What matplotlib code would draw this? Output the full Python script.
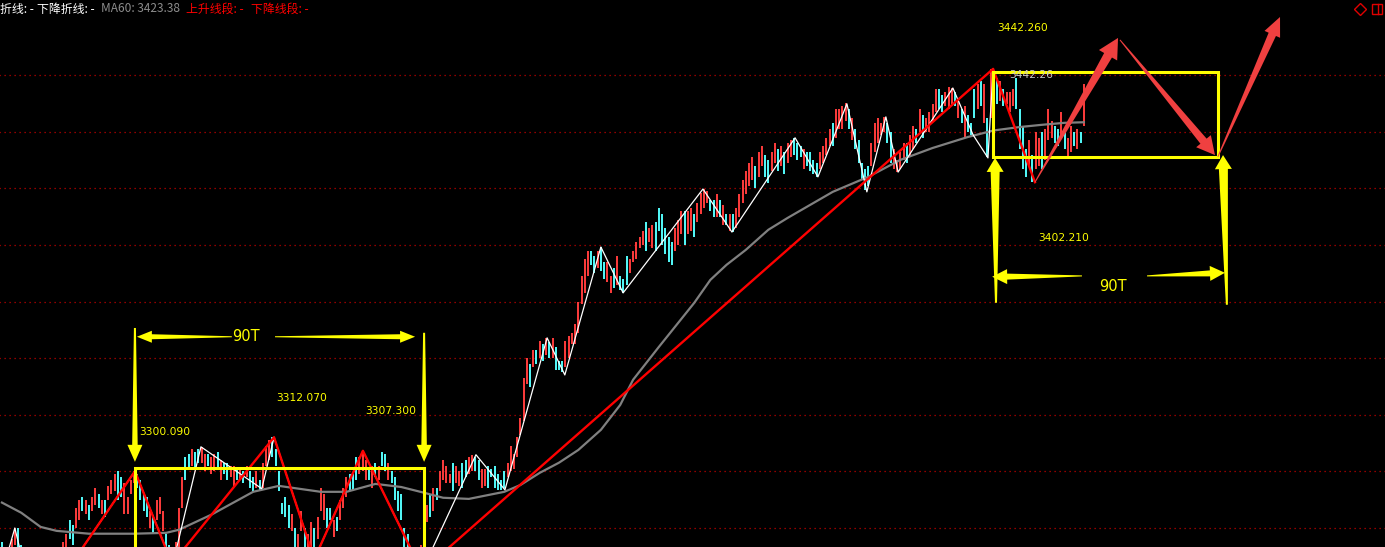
import numpy as np
import matplotlib.pyplot as plt
from matplotlib.patches import Polygon, Rectangle
from matplotlib.transforms import IdentityTransform

plt.rcParams['font.family'] = ['Noto Sans CJK SC', 'DejaVu Sans']

# ---- bars (one per bar index) ----
bar_low = [
    3268, 3266, 3264, 3268, 3274, 3272, 3268, 3264, 3265, 3262,
    3260, 3261, 3258, 3259, 3261, 3260, 3262, 3264, 3266, 3270,
    3271, 3276, 3274, 3280, 3283, 3286, 3285, 3283, 3286, 3288,
    3287, 3285, 3284, 3290, 3292, 3293, 3290, 3291, 3285, 3285,
    3292, 3296, 3294, 3290, 3286, 3284, 3280, 3278, 3283, 3285,
    3279, 3272, 3268, 3266, 3268, 3272, 3287, 3297, 3301, 3302,
    3301, 3303, 3303, 3300, 3302, 3299, 3300, 3301, 3297, 3299,
    3297, 3298, 3295, 3297, 3297, 3296, 3298, 3294, 3293, 3294,
    3293, 3294, 3302, 3304, 3305, 3302, 3293, 3285, 3284, 3280,
    3279, 3272, 3272, 3279, 3273, 3271, 3273, 3272, 3276, 3286,
    3283, 3280, 3283, 3277, 3279, 3283, 3287, 3291, 3293, 3293,
    3297, 3299, 3300, 3297, 3297, 3294, 3298, 3297, 3302, 3300,
    3297, 3296, 3290, 3286, 3283, 3273, 3270, 3266, 3264, 3265,
    3266, 3272, 3282, 3284, 3286, 3290, 3293, 3297, 3296, 3296,
    3293, 3296, 3295, 3294, 3298, 3299, 3300, 3300, 3297, 3294,
    3295, 3294, 3298, 3294, 3293.5, 3293.5, 3294, 3298, 3300, 3301,
    3305, 3313, 3318, 3331, 3330, 3337, 3338, 3340, 3339, 3341,
    3340, 3340, 3336, 3336, 3335, 3337, 3340, 3345, 3345, 3349,
    3359, 3363, 3369, 3373, 3370, 3372, 3371, 3368, 3367, 3363,
    3365, 3366, 3364, 3363, 3366, 3370, 3374, 3375, 3379, 3380,
    3378, 3381, 3379, 3378, 3385, 3380, 3377, 3374, 3373, 3378,
    3380, 3384, 3380, 3384, 3385, 3383, 3388, 3391, 3393, 3395,
    3392, 3390, 3390, 3390, 3387, 3387, 3385, 3384.6, 3386, 3390,
    3395, 3398, 3401, 3403, 3400, 3404, 3408, 3404, 3402, 3406,
    3409, 3406, 3408, 3405, 3409, 3411, 3412, 3410, 3411, 3407,
    3408, 3406, 3405, 3404.1, 3407, 3409, 3412, 3415, 3415, 3418,
    3421, 3421, 3424, 3421, 3417, 3414, 3409, 3403, 3399.5, 3401,
    3408, 3413, 3416, 3419, 3420, 3416, 3409, 3407, 3405.8, 3407,
    3410, 3409, 3411, 3414, 3416, 3420, 3418, 3420, 3420, 3424,
    3427, 3428, 3427, 3429, 3428, 3430, 3429, 3425, 3423, 3418,
    3420, 3418.9, 3425, 3428, 3429, 3423, 3411, 3425, 3434, 3430,
    3431, 3429, 3430, 3427, 3429, 3428, 3414, 3407, 3404, 3408,
    3402.21, 3407, 3408, 3407, 3410, 3417, 3418, 3416, 3415, 3418,
    3414, 3411, 3413, 3415, 3414, 3416, 3422,
]
bar_high = [
    3275, 3272, 3270, 3276, 3280, 3280, 3274, 3270, 3271, 3268,
    3266, 3267, 3264, 3265, 3267, 3266, 3268, 3270, 3273, 3275,
    3278, 3283, 3281, 3287, 3290, 3291, 3290, 3288, 3291, 3294,
    3292, 3290, 3290, 3295, 3297, 3299, 3300, 3298, 3296, 3291,
    3297, 3300.09, 3299, 3297, 3292, 3291, 3286, 3284, 3290, 3291,
    3286, 3278, 3274, 3272, 3275, 3287, 3298, 3305, 3306, 3308,
    3307, 3308, 3308.7, 3306, 3306, 3305, 3306, 3307, 3304, 3303,
    3303, 3302, 3302, 3301, 3301, 3300, 3302, 3300, 3298, 3300,
    3297, 3303, 3309, 3311, 3312.07, 3308, 3300, 3289, 3291, 3288,
    3285, 3280, 3278, 3286, 3280, 3278, 3282, 3280, 3284, 3294,
    3292, 3287, 3287, 3283, 3284, 3290, 3294, 3298, 3299, 3299,
    3305, 3305, 3307.3, 3304, 3301, 3302, 3303, 3302, 3307, 3306,
    3303, 3300, 3298, 3293, 3292, 3280, 3278, 3273, 3272, 3270,
    3274, 3290, 3288, 3292, 3294, 3294, 3300, 3304, 3302, 3299,
    3303, 3302, 3300, 3303, 3304, 3305, 3305.9, 3305, 3304, 3301,
    3301, 3302, 3301, 3302, 3299, 3297, 3300, 3303, 3309, 3306,
    3312, 3319, 3333, 3340, 3338, 3343, 3343, 3346, 3345, 3347.2,
    3345.6, 3347, 3344, 3339, 3339, 3346, 3348, 3349, 3352, 3360,
    3369, 3375, 3378, 3378, 3376, 3378, 3379.3, 3374, 3374, 3369,
    3372, 3376, 3369, 3368, 3376, 3375, 3378, 3381, 3383, 3385,
    3388, 3386, 3387, 3388, 3393, 3391, 3386, 3383, 3381, 3386,
    3389, 3392, 3392, 3392, 3393, 3391, 3395, 3398.4, 3399.8, 3399,
    3396, 3396, 3398, 3396, 3394, 3391, 3391, 3391, 3393, 3398,
    3403, 3406, 3409, 3411, 3408, 3413, 3415, 3412, 3410, 3413,
    3416, 3414, 3415, 3413, 3416, 3417, 3417.9, 3416, 3415, 3414,
    3413, 3413, 3410, 3409, 3413, 3415, 3418, 3421, 3423, 3428,
    3428, 3429, 3430.1, 3428, 3425, 3421, 3417, 3409, 3407, 3408,
    3416, 3423, 3425, 3423, 3425.3, 3423, 3420, 3414, 3410, 3413,
    3416, 3416, 3419, 3422, 3421, 3428, 3426, 3425, 3427, 3430,
    3435, 3435, 3433, 3434, 3436, 3435.4, 3434, 3432, 3428, 3429,
    3426, 3423, 3435, 3437, 3438, 3437, 3425, 3442.26, 3441, 3439,
    3438, 3435, 3434, 3434, 3435, 3439, 3428, 3422, 3414, 3417,
    3412, 3420, 3418, 3420, 3421, 3428, 3424, 3422, 3421, 3427,
    3420, 3418, 3422, 3420, 3421, 3420, 3437,
]
bar_dir = (
    "CRCRRCCCRC" "CRCRRCRRRR" "RCCRRCRCRR" "CRCRRRCCRR" "RRCCCCRCRR"
    "RCCCRRRCCR" "CCRRCRRCRC" "CRRCRCRCCR" "CRRRCCCCCC" "RCRRCRRCRR"
    "RCCRCRRRCC" "CRRRCRCRCC" "RCCCCCCCRC" "RRRCRCRRRR" "CRRCCRRCCR"
    "RCCCCCCRRR" "RRRRCRCRCR" "CRCCCRRRRR" "RRRCCRCCRR" "CRCCCRRRRR"
    "CRRCCCCCCR" "RRCRRCRRRR" "CCRCRCRCRR" "RRRRCRRCCR" "RCRCRRCCCR"
    "CCCCRRRRCR" "RRRCRCCCCC" "RRRRRCCRRR" "RCRRCRCRRR" "RCCRRRCRCR"
    "CCCRCRCRRC" "RCRRRCCCCR" "CRRCRRRCCR" "CRRCRCR"
)

# MA60 read at a few bars
ma60_x = [0, 6, 12, 17, 27, 41, 51, 55, 65, 78, 86, 99, 107, 116, 124, 131,
          137, 145, 156, 161, 167, 173, 179, 186, 192, 196, 204, 210, 215, 220,
          225, 231, 238, 244, 251, 258, 269, 279, 289, 300, 308, 316, 323, 330,
          336]
ma60_y = [3289, 3285.4, 3280.4, 3279, 3278, 3278, 3278.3, 3279.4, 3284.7,
          3292.8, 3294.9, 3292.8, 3292.8, 3295.6, 3294.5, 3292.5, 3290.7,
          3290.3, 3292.8, 3295.2, 3299.5, 3303.1, 3307.6, 3314.7, 3323.5,
          3332.4, 3344, 3352.5, 3359.6, 3367.7, 3373, 3378.3, 3385.4, 3389.6,
          3394.2, 3398.8, 3404.1, 3410.1, 3414.3, 3418.2, 3420.5, 3421.7,
          3422.5, 3423.2, 3423.4]

# zigzag pivots
white_x = [1, 4, 7, 19, 41.3, 53, 61.8, 80.7, 84.5, 97, 112.1, 130.4, 147.2,
           156.2, 169.3, 174.8, 186.0, 192.9, 217.7, 226.7, 246.3, 253.4,
           262.4, 268.6, 274.5, 278.3, 295.3, 301.6, 306.2, 307.8]
white_y = [3268, 3280, 3266, 3263, 3300.09, 3267, 3308.7, 3293.9, 3312.07,
           3269, 3307.3, 3264.7, 3305.9, 3293.5, 3347.2, 3334.1, 3379.3,
           3363.1, 3399.8, 3384.6, 3417.9, 3404.1, 3429.9, 3398.8, 3425.3,
           3405.8, 3435.5, 3418.9, 3410.8, 3442.26]
red_x = [19, 41.3, 52.8, 84.5, 97, 112.1, 130.4, 307.8, 320.8]
red_y = [3263, 3300.09, 3267.4, 3312.07, 3269, 3307.3, 3264.7, 3442.26, 3402.21]

grid_prices = [3280, 3300, 3320, 3340, 3360, 3380, 3400, 3420, 3440]

# annotations drawn on top
price_labels = ["3300.090", "3312.070", "3307.300", "3442.260", "3402.210"]
price_label_at = [(42.5, 3314.0), (85.1, 3326.0), (112.7, 3321.4),
                  (309.0, 3456.7), (321.7, 3382.5)]
boxes = [(41.3, 131.1, 3255, 3301.3), (307.8, 377.6, 3411.1, 3441.2)]
# (start, tip, start width, width at head, head width, head length) in px
yellow_arrows = [
    ((41.3, 3350.7), (41.3, 3303.4), 2, 5.5, 15, 17),
    ((131.1, 3349.0), (131.1, 3303.4), 2, 5.5, 15, 17),
    ((71.4, 3347.6), (41.9, 3347.6), 1, 5, 12, 15),
    ((84.8, 3347.6), (128.3, 3347.6), 1, 5, 12, 15),
    ((308.7, 3359.6), (308.4, 3410.8), 2, 9, 17, 14),
    ((380.4, 3358.9), (379.2, 3411.8), 2, 9, 17, 14),
    ((335.4, 3369.1), (307.5, 3368.8), 1, 6, 15, 15),
    ((355.6, 3369.1), (379.8, 3370.2), 1, 6, 15, 15),
]
red_arrows = [
    ((320.8, 3402.2), (346.6, 3453.2), 1, 9, 21, 20),
    ((347.2, 3452.5), (376.7, 3411.8), 1, 8, 19, 18),
    ((377.6, 3411.2), (396.9, 3460.6), 1, 8, 17, 19),
]


def taper_arrow(ax, p0, p1, w0, w1, hw, hl, color):
    (x0, y0), (x1, y1) = ax.transData.transform([p0, p1])
    ux, uy = x1 - x0, y1 - y0
    n = np.hypot(ux, uy)
    ux, uy = ux / n, uy / n
    nx, ny = -uy, ux
    bx, by = x1 - ux * hl, y1 - uy * hl
    pts = [(x0 + nx * w0 / 2, y0 + ny * w0 / 2),
           (bx + nx * w1 / 2, by + ny * w1 / 2),
           (bx + nx * hw / 2, by + ny * hw / 2),
           (x1, y1),
           (bx - nx * hw / 2, by - ny * hw / 2),
           (bx - nx * w1 / 2, by - ny * w1 / 2),
           (x0 - nx * w0 / 2, y0 - ny * w0 / 2)]
    ax.add_patch(Polygon(pts, closed=True, transform=IdentityTransform(),
                         facecolor=color, edgecolor='none', zorder=8))


fig = plt.figure(figsize=(13.85, 5.47), dpi=100, facecolor='black')
ax = fig.add_axes([0, 0, 1, 1])
ax.set_axis_off()
ax.set_xlim(-0.6, 429.5)
ax.set_ylim(3273.3, 3466.6)

ax.hlines(grid_prices, -1, 431, colors='#c00000', linestyles=(0, (1, 3)),
          lw=0.9, zorder=1)

x = np.arange(len(bar_low))
cols = ['#ff3c3c' if d == 'R' else '#54fcfc' for d in bar_dir]
ax.vlines(x, bar_low, bar_high, colors=cols, lw=1.4, zorder=2)

ax.plot(ma60_x, ma60_y, color='#808080', lw=1.6, zorder=3)
ax.plot(white_x, white_y, color='white', lw=0.9, zorder=4)
ax.plot(red_x, red_y, color='#ff0000', lw=1.7, zorder=5)

for x0, x1, y0, y1 in boxes:
    ax.add_patch(Rectangle((x0, y0), x1 - x0, y1 - y0, fill=False,
                           edgecolor='#ffff00', lw=2.2, zorder=6))

for p0, p1, w0, w1, hw, hl in yellow_arrows:
    taper_arrow(ax, p0, p1, w0, w1, hw, hl, '#ffff00')
for p0, p1, w0, w1, hw, hl in red_arrows:
    taper_arrow(ax, p0, p1, w0, w1, hw, hl, '#f04040')

ax.text(75.8, 3347.6, "90T", color='#ffff00', fontsize=10.5,
        family='DejaVu Sans', ha='center', va='center', zorder=9)
ax.text(345.0, 3365.2, "90T", color='#ffff00', fontsize=10.5,
        family='DejaVu Sans', ha='center', va='center', zorder=9)
for s, (lx, ly) in zip(price_labels, price_label_at):
    ax.text(lx, ly, s, color='#ffff00', fontsize=7.7, family='DejaVu Sans',
            ha='left', va='center', zorder=9)
ax.text(312.7, 3440.1, "3442.26", color='#c8c8c8', fontsize=7.7,
        family='DejaVu Sans', ha='left', va='center', zorder=9)

# header line
header = [("折线: -", 0, 'white'), ("下降折线: -", 37, 'white'),
          ("MA60: 3423.38", 101, '#8c8c8c'), ("上升线段: -", 186, '#ff0000'),
          ("下降线段: -", 251, '#ff0000')]
for s, px, c in header:
    fig.text(px / 1385, 1 - 9 / 547, s, color=c, fontsize=8.6,
             ha='left', va='center')

ax.plot(1360 / 1385, 1 - 9 / 547, marker='D', ms=6, mfc='none', mec='#e00000',
        mew=1, transform=ax.transAxes, clip_on=False)
ax.add_patch(Rectangle((1372 / 1385, 1 - 14 / 547), 10 / 1385, 10 / 547,
                       transform=ax.transAxes, fill=False, ec='#e00000', lw=1))
ax.plot([1378 / 1385, 1378 / 1385], [1 - 14 / 547, 1 - 4 / 547],
        color='#e00000', lw=1, transform=ax.transAxes)

fig.savefig('out.png', dpi=100, facecolor='black')
